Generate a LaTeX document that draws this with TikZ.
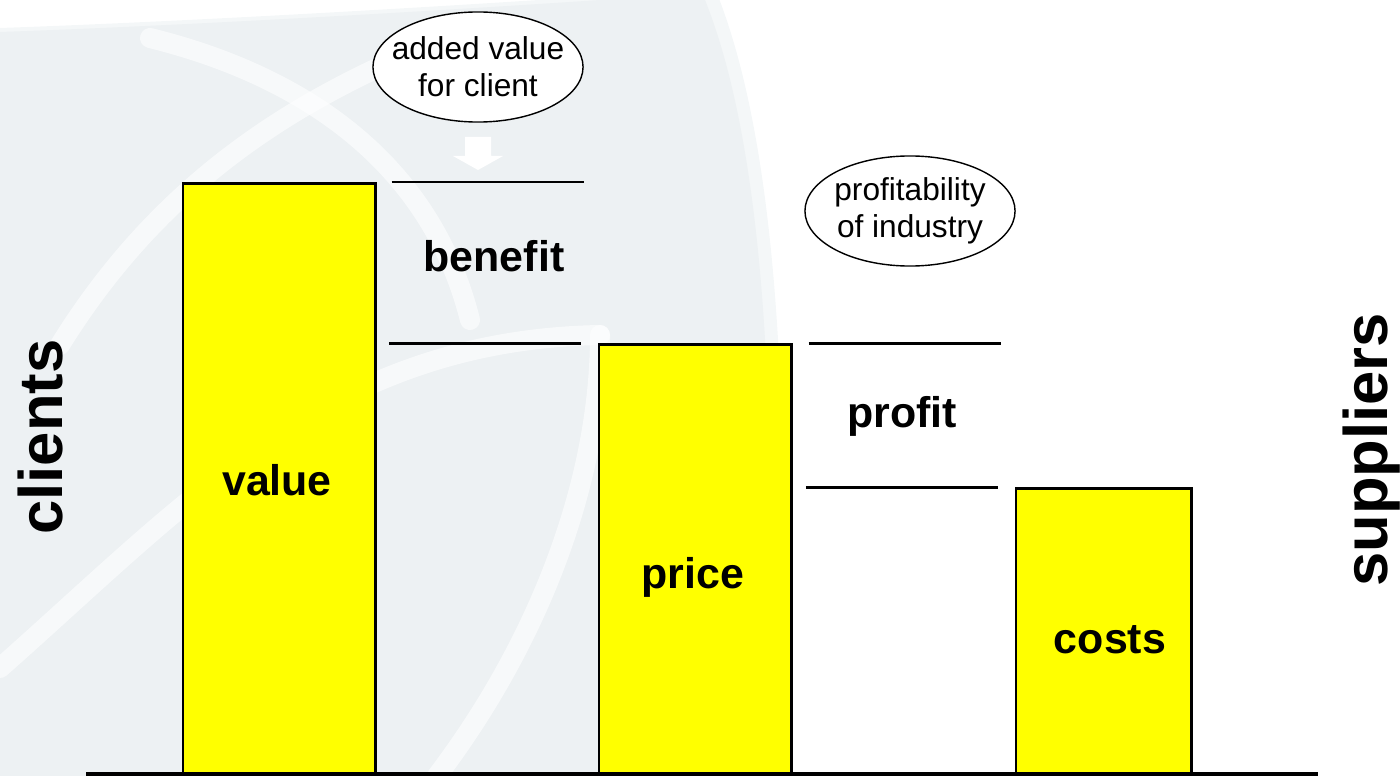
\documentclass[tikz,border=0pt]{standalone}
\usepackage{fontspec}
\setmainfont{Liberation Sans}
\usetikzlibrary{positioning, shapes.geometric}

\definecolor{bggray}{RGB}{237,241,243}
\definecolor{baryellow}{RGB}{255,255,0}

\begin{document}
\begin{tikzpicture}[
    x=0.01cm, y=-0.01cm,
    bar/.style={
      draw, fill=baryellow, line width=0.7pt, minimum width=1.92cm, inner sep=0pt, anchor=south west
    },
    bubble/.style={
      ellipse, draw, fill=white, align=center, inner ysep=0pt, inner xsep=-0.12cm,
      minimum width=2.1cm, minimum height=1.1cm, font=\fontsize{9}{10.5}\selectfont
    },
    level/.style={
      line width=0.7pt
    },
    ground/.style={
      line width=1pt
    },
    tag/.style={
      font=\fontsize{12.2}{14}\selectfont\bfseries
    },
    side/.style={
      font=\fontsize{17.5}{20}\selectfont\bfseries, rotate=90, anchor=base
    },
    band/.style={
      white, line width=0.2cm, line cap=round, opacity=0.6
    },
  ]
    \useasboundingbox (0,0) rectangle (1400,776);

    % watermark
    \fill[bggray!60] (0,28) .. controls (200,21) and (450,6) .. (600,-4) -- (718,-4)
      .. controls (778,150) and (793,420) .. (778,780) -- (0,780) -- cycle;
    \fill[bggray] (0,32) .. controls (200,25) and (450,10) .. (600,0) -- (705,0)
      .. controls (765,150) and (780,420) .. (765,776) -- (0,776) -- cycle;
    \draw[band] (60,345) .. controls (150,200) and (270,110) .. (430,45);
    \draw[band] (150,38) .. controls (300,75) and (430,160) .. (470,320);
    \draw[band] (0,668) .. controls (190,500) and (330,340) .. (600,335);
    \draw[band] (437,776) .. controls (540,640) and (600,480) .. (600,335);

    % bars
    \node [bar, minimum height=5.89cm] (value_bar) at (182,774) {};
    \node [bar, minimum height=4.28cm] (price_bar) at (598,774) {};
    \node [bar, minimum height=2.84cm, minimum width=1.75cm] (costs_bar) at (1015,774) {};

    % bar texts
    \node [tag] (value_text) at (277,480) {value};
    \node [tag] (price_text) at (693,577) {price};
    \node [tag] (costs_text) at (1110,640) {costs};

    % levels
    \coordinate [right=.15cm of value_bar.north east] (benefit_top_l);
    \coordinate [right=1.92cm of benefit_top_l] (benefit_top_r);
    \coordinate [left=.17cm of price_bar.north west] (benefit_low_r);
    \coordinate [left=1.92cm of benefit_low_r] (benefit_low_l);
    \coordinate [right=.16cm of price_bar.north east] (profit_top_l);
    \coordinate [right=1.92cm of profit_top_l] (profit_top_r);
    \coordinate [left=.17cm of costs_bar.north west] (profit_low_r);
    \coordinate [left=1.92cm of profit_low_r] (profit_low_l);

    \draw [level] (benefit_top_l) -- (benefit_top_r);
    \draw [level] (benefit_low_l) -- (benefit_low_r);
    \draw [level] (profit_top_l) -- (profit_top_r);
    \draw [level] (profit_low_l) -- (profit_low_r);

    \node [tag] (benefit_text) at (494,256) {benefit};
    \node [tag] (profit_text) at (902,416) {profit};

    % axis
    \coordinate (axis_l) at (86,774);
    \coordinate (axis_r) at (1318,774);
    \draw [ground] (axis_l) -- (axis_r);

    % bubbles
    \node [bubble] (added_value) at (478,67) {added value\\for client};
    \node [bubble] (industry) at (910,211) {profitability\\of industry};

    % white arrow
    \fill [white] (465,137) -- (491,137) -- (491,156) -- (503,156) -- (478,170)
      -- (453,156) -- (465,156) -- cycle;

    % sides
    \node [side] (clients) at (62,437) {clients};
    \node [side] (suppliers) at (1387,450) {suppliers};

  \end{tikzpicture}
\end{document}
